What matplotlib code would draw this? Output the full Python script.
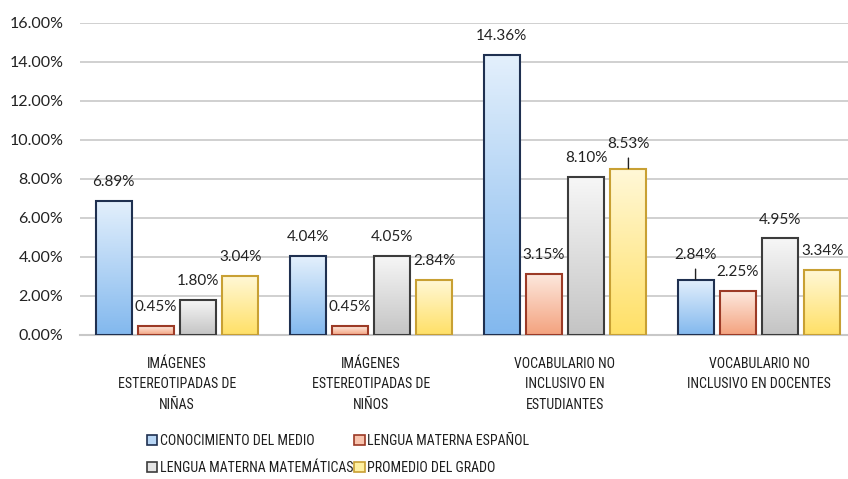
import numpy as np
import matplotlib
matplotlib.use("Agg")
import matplotlib.pyplot as plt
from matplotlib.colors import LinearSegmentedColormap
from matplotlib.patches import Patch

plt.rcParams['font.family'] = ['Lato', 'DejaVu Sans']
NARROW = ['Roboto Condensed', 'Open Sans Condensed', 'Lato', 'DejaVu Sans']

categories = ["IMÁGENES\nESTEREOTIPADAS DE\nNIÑAS",
              "IMÁGENES\nESTEREOTIPADAS DE\nNIÑOS",
              "VOCABULARIO NO\nINCLUSIVO EN\nESTUDIANTES",
              "VOCABULARIO NO\nINCLUSIVO EN DOCENTES"]
series_names = ["CONOCIMIENTO DEL MEDIO", "LENGUA MATERNA ESPAÑOL",
                "LENGUA MATERNA MATEMÁTICAS", "PROMEDIO DEL GRADO"]
conocimiento = [6.89, 4.04, 14.36, 2.84]
espanol = [0.45, 0.45, 3.15, 2.25]
matematicas = [1.80, 4.05, 8.10, 4.95]
promedio = [3.04, 2.84, 8.53, 3.34]
values = [conocimiento, espanol, matematicas, promedio]
yticks = [0, 2, 4, 6, 8, 10, 12, 14, 16]

tops = ["#e4f0fc", "#fde9df", "#f7f7f7", "#fff8d8"]
bottoms = ["#82b8ee", "#f4a27e", "#c4c4c4", "#ffe066"]
edges = ["#1f3050", "#9c3a26", "#3c3c3c", "#c8a033"]
legend_fc = ["#b8d6f5", "#f8c3ad", "#e4e4e4", "#fff0a0"]

fig = plt.figure(figsize=(8.48, 4.79), dpi=100)
ax = fig.add_axes([80/848, 144/479, 776/848, 312.3/479])

x = np.arange(len(categories))
pitch = 0.218
width = 0.185
offsets = (np.arange(4) - 1.5) * pitch

for i in range(4):
    bars = ax.bar(x + offsets[i], values[i], width, facecolor='none',
                  edgecolor=edges[i], linewidth=1.5, zorder=3)
    cmap = LinearSegmentedColormap.from_list("g%d" % i, [bottoms[i], tops[i]])
    for b in bars:
        x0, y0 = b.get_x(), b.get_y()
        w, h = b.get_width(), b.get_height()
        grad = np.linspace(0, 1, 256).reshape(-1, 1)
        im = ax.imshow(grad, cmap=cmap, aspect='auto', origin='lower',
                       extent=(x0, x0 + w, y0, y0 + h), zorder=2)
        im.set_clip_path(b)

# data labels: (category index, series index) with leader lines
special = {(2, 3): 17.5, (3, 0): 17.5}
for i in range(4):
    for j in range(4):
        v = values[i][j]
        off = special.get((j, i), 13.5)
        ax.annotate(f"{v:.2f}%", (x[j] + offsets[i], v), xytext=(0, off),
                    textcoords='offset points', ha='center', va='center',
                    fontsize=11, color='#222222', zorder=5)
        if (j, i) in special:
            ax.annotate("", (x[j] + offsets[i], v), xytext=(0, 7.5),
                        textcoords='offset points',
                        arrowprops=dict(arrowstyle='-', color='#222222', lw=1,
                                        shrinkA=0, shrinkB=0))

ax.set_xlim(-0.5, 3.5)
ax.set_ylim(0, 16)
ax.set_yticks(yticks)
ax.set_yticklabels([f"{t:.2f}%" for t in yticks], fontsize=11.5, color='#222222')
ax.set_xticks(x)
ax.set_xticklabels(categories, fontsize=10, color='#1e1e1e', linespacing=1.62,
                   family=NARROW)
ax.tick_params(axis='x', length=0, pad=15.5)
ax.tick_params(axis='y', length=0, pad=12)
ax.yaxis.grid(True, color='#c8c8c8', linewidth=1.2, zorder=0)
ax.set_axisbelow(True)
for s in ['top', 'right', 'left']:
    ax.spines[s].set_visible(False)
ax.spines['bottom'].set_color('#c8c8c8')
ax.spines['bottom'].set_linewidth(1.5)

handles = [Patch(facecolor=legend_fc[i], edgecolor=edges[i], linewidth=1.2)
           for i in range(4)]
order = [0, 2, 1, 3]
leg = fig.legend([handles[k] for k in order], [series_names[k] for k in order],
                 ncol=2, loc='upper left', bbox_to_anchor=(147/848, 1 - 434/479),
                 frameon=False, prop={'family': NARROW, 'size': 10},
                 handlelength=0.75, handleheight=0.75,
                 handletextpad=0.15, columnspacing=0.1, labelspacing=0.95,
                 borderpad=0, borderaxespad=0)
for t in leg.get_texts():
    t.set_color('#1e1e1e')

fig.savefig("out.png", dpi=100)
